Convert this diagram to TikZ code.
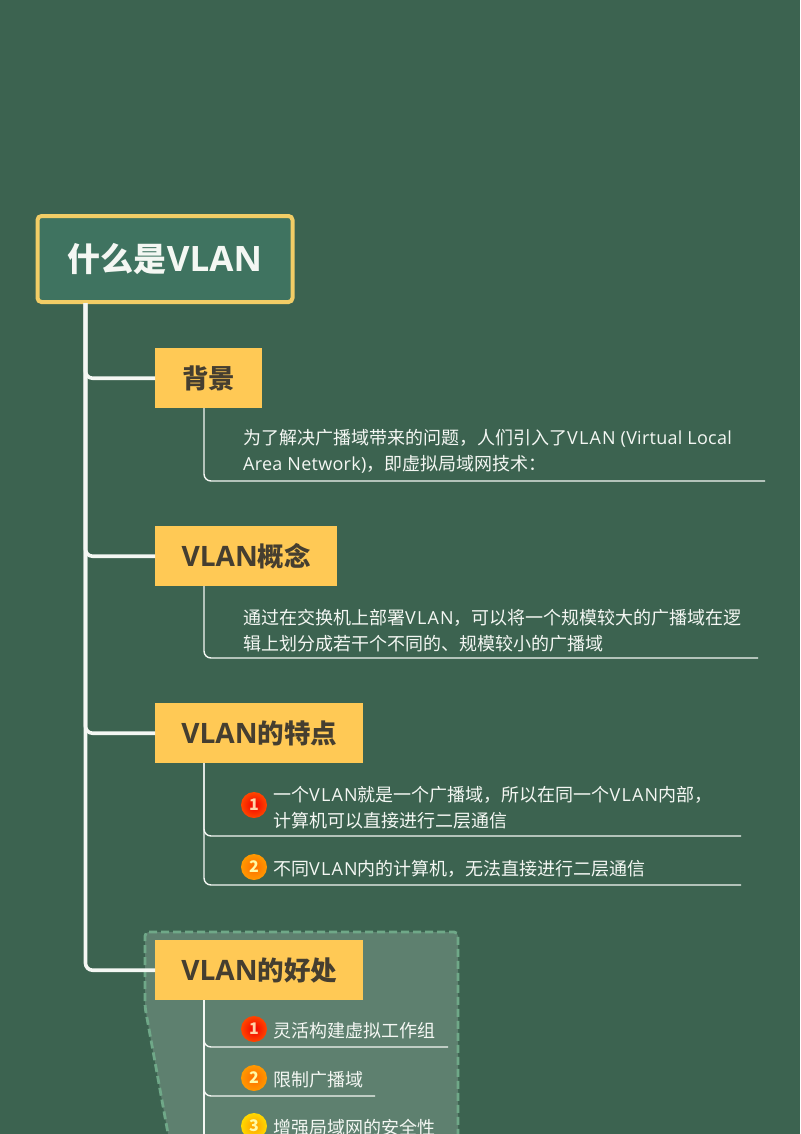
\documentclass[tikz,border=0pt]{standalone}
\usepackage{fontspec}
\setmainfont{Noto Sans CJK SC}
\newfontfamily\latinface[LetterSpace=1.5,BoldFeatures={Scale=1.06,LetterSpace=0}]{Open Sans}
\newfontfamily\vlanface[LetterSpace=6.5]{Open Sans}
\newcommand{\lat}[1]{{\latinface #1}}
\newcommand{\vlan}{{\vlanface VLAN}}
\usepackage{xcolor}
\usetikzlibrary{calc}
\definecolor{board}{HTML}{3C6350}
\definecolor{titlefill}{HTML}{3F7360}
\definecolor{titleline}{HTML}{F2CD66}
\definecolor{gold}{HTML}{FFC955}
\definecolor{ink}{HTML}{453E30}
\definecolor{patch}{HTML}{5E806F}
\definecolor{patchline}{HTML}{6FA888}
\definecolor{chalk}{HTML}{F4F7F3}
\tikzset{
  titlebox/.style={draw=titleline, fill=titlefill, line width=4pt, rounded corners=4pt, text=chalk, font=\fontsize{33}{36}\selectfont\bfseries, minimum width=255pt, minimum height=86pt, inner sep=0pt},
  topicbox/.style={fill=gold, text=ink, font=\fontsize{26.5}{30}\selectfont\bfseries, minimum height=60pt, inner sep=0pt, anchor=north west},
  trunk/.style={draw=chalk, line width=3.6pt, rounded corners=7pt},
  twig/.style={draw=chalk, line width=1.4pt, rounded corners=7pt},
  body/.style={text=chalk, font=\fontsize{18}{26}\selectfont, align=left, anchor=west, inner sep=0pt},
  badge/.style={circle, minimum size=26pt, inner sep=0pt, text=#1!35!white, font=\fontsize{16}{16}\selectfont\bfseries},
  badgeone/.style={badge=orange, inner color=red!95!black, outer color=orange!55!red},
  badgetwo/.style={badge=yellow, inner color=orange!85!red, outer color=orange!80!yellow},
  badgethree/.style={badge=yellow, inner color=orange!75!yellow, outer color=yellow!70!orange}
}
\begin{document}
\begin{tikzpicture}[x=1pt,y=-1pt]
  \useasboundingbox (0,0) rectangle (800,1134);
  \clip (0,0) rectangle (800,1134);
  \fill[board] (0,0) rectangle (800,1134);

  % dashed patch behind the last topic
  \draw[fill=patch, draw=patchline, line width=2.8pt, dash pattern=on 8pt off 4pt, rounded corners=4pt]
    (145,932) -- (458,932) -- (458,1150) -- (171,1150) -- (145,1007) -- cycle;

  % title and topics
  \node[titlebox] (title) at (165,259) {什么是\lat{VLAN}};
  \node[topicbox, minimum width=107pt] (bg) at (155,348) {背景};
  \node[topicbox, minimum width=182pt] (idea) at (155,526) {\lat{VLAN}概念};
  \node[topicbox, minimum width=208pt] (traits) at (155,703) {\lat{VLAN}的特点};
  \node[topicbox, minimum width=208pt] (gains) at (155,940) {\lat{VLAN}的好处};

  % trunk from title to topics
  \coordinate (stem) at (85.5,303);
  \draw[trunk] (stem) |- (bg.west);
  \draw[trunk] (stem) |- (idea.west);
  \draw[trunk] (stem) |- (traits.west);
  \draw[trunk] (stem) |- (gains.west);

  % texts
  \node[body] (bgtext) at (243,451.5) {为了解决广播域带来的问题，人们引入了\vlan\lat{ (Virtual Local}\\\lat{Area Network)}，即虚拟局域网技术：};
  \node[body] (ideatext) at (243,630.5) {通过在交换机上部署\vlan，可以将一个规模较大的广播域在逻\\辑上划分成若干个不同的、规模较小的广播域};
  \node[body] (traitone) at (273,807.5) {一个\vlan 就是一个广播域，所以在同一个\vlan 内部，\\计算机可以直接进行二层通信};
  \node[body] (traittwo) at (273,869) {不同\vlan 内的计算机，无法直接进行二层通信};
  \node[body] (gainone) at (273,1031) {灵活构建虚拟工作组};
  \node[body] (gaintwo) at (273,1080) {限制广播域};
  \node[body] (gainthree) at (273,1128) {增强局域网的安全性};

  % numbered badges
  \node[badgeone] (dota) at (254,805) {1};
  \node[badgetwo] (dotb) at (254,867) {2};
  \node[badgeone] (dotc) at (254,1029) {1};
  \node[badgetwo] (dotd) at (254,1078) {2};
  \node[badgethree] (dote) at (254,1126) {3};

  % twigs under topics
  \coordinate (bgend) at (765,481);
  \coordinate (ideaend) at (758,658);
  \coordinate (traitoneend) at (741,836);
  \coordinate (traittwoend) at (741,885);
  \coordinate (gainoneend) at (448,1047);
  \coordinate (gaintwoend) at (375,1096);
  \coordinate (gainfoot) at (204,1140);
  \draw[twig] (204,408) |- (bgend);
  \draw[twig] (204,586) |- (ideaend);
  \draw[twig] (204,763) |- (traitoneend);
  \draw[twig] (204,763) |- (traittwoend);
  \draw[twig] (204,1000) |- (gainoneend);
  \draw[twig] (204,1000) |- (gaintwoend);
  \draw[twig] (204,1000) -- (gainfoot);
\end{tikzpicture}
\end{document}
